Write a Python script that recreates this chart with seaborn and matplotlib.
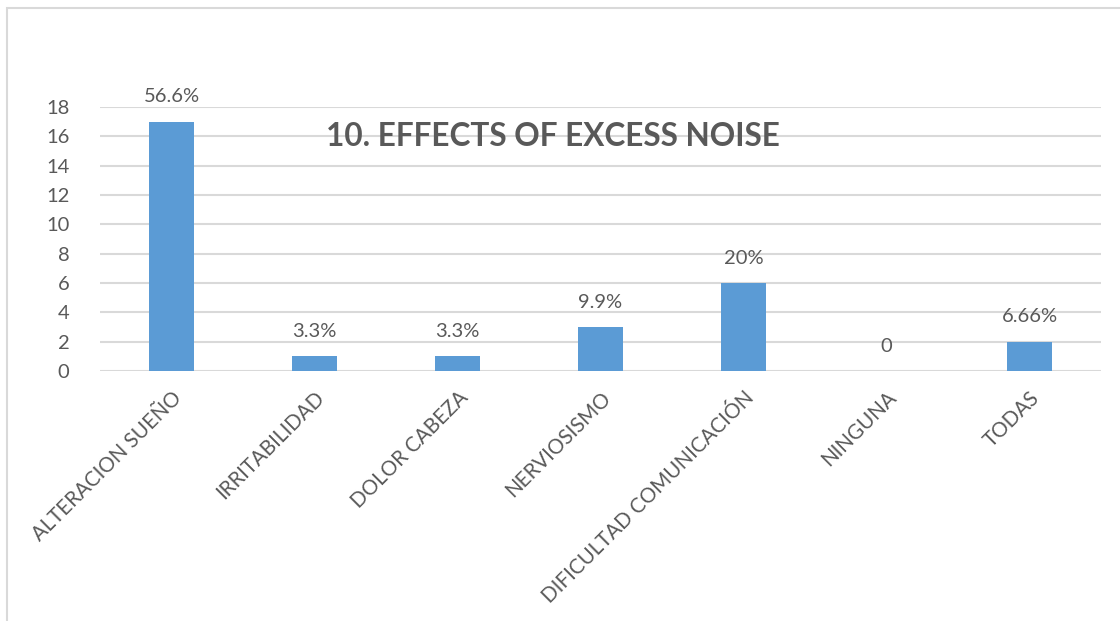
import matplotlib
matplotlib.use("Agg")
import matplotlib.pyplot as plt
import seaborn as sns
import pandas as pd
from matplotlib.patches import Rectangle

# Survey responses: effects of excess noise
categories = ["ALTERACION SUEÑO", "IRRITABILIDAD", "DOLOR CABEZA", "NERVIOSISMO",
              "DIFICULTAD COMUNICACIÓN", "NINGUNA", "TODAS"]
counts = [17, 1, 1, 3, 6, 0, 2]
value_labels = ["56.6%", "3.3%", "3.3%", "9.9%", "20%", "0", "6.66%"]
yticks = [0, 2, 4, 6, 8, 10, 12, 14, 16, 18]
title = "10. EFFECTS OF EXCESS NOISE"

df = pd.DataFrame({"category": categories, "count": counts})

sns.set_theme(style="white")
plt.rcParams["font.family"] = ["Lato", "DejaVu Sans"]

text_color = "#595959"
grid_color = "#D9D9D9"
bar_color = "#5B9BD5"

fig = plt.figure(figsize=(11.2, 6.21), dpi=100)
ax = fig.add_axes([100 / 1120, 250 / 621, 1001 / 1120, 264 / 621])

sns.barplot(data=df, x="category", y="count", color=bar_color, width=0.315,
            saturation=1, ax=ax, zorder=2, edgecolor="none")

ax.set_ylim(0, 18)
ax.set_yticks(yticks)
ax.set_xlim(-0.5, len(categories) - 0.5)
ax.yaxis.grid(True, color=grid_color, linewidth=1.5, zorder=0)
ax.set_axisbelow(True)
for s in ax.spines.values():
    s.set_visible(False)
ax.set_xlabel("")
ax.set_ylabel("")
ax.tick_params(axis="y", length=0, pad=22, labelsize=14.5, labelcolor=text_color)
ax.tick_params(axis="x", length=0, pad=12, labelsize=14.8, labelcolor=text_color)
for lab in ax.get_xticklabels():
    lab.set_rotation(45)
    lab.set_ha("right")
    lab.set_va("top")
    lab.set_rotation_mode("anchor")
    lab.set_x(lab.get_position()[0])

# Value labels above each bar
for i, (v, lab) in enumerate(zip(counts, value_labels)):
    ax.annotate(lab, xy=(i, v), xytext=(0, 18), textcoords="offset points",
                ha="center", va="center", fontsize=14.5, color=text_color)

fig.text(553 / 1120, 1 - 136 / 621, title, ha="center", va="center",
         fontsize=22.7, fontweight="bold", color=text_color)

# Chart area frame
fig.patches.append(Rectangle((7 / 1120, -0.1), 1.2, 1 - 8 / 621 + 0.1,
                             transform=fig.transFigure, fill=False,
                             edgecolor=grid_color, linewidth=1.5))

fig.savefig("out.png", dpi=100, facecolor="white")
